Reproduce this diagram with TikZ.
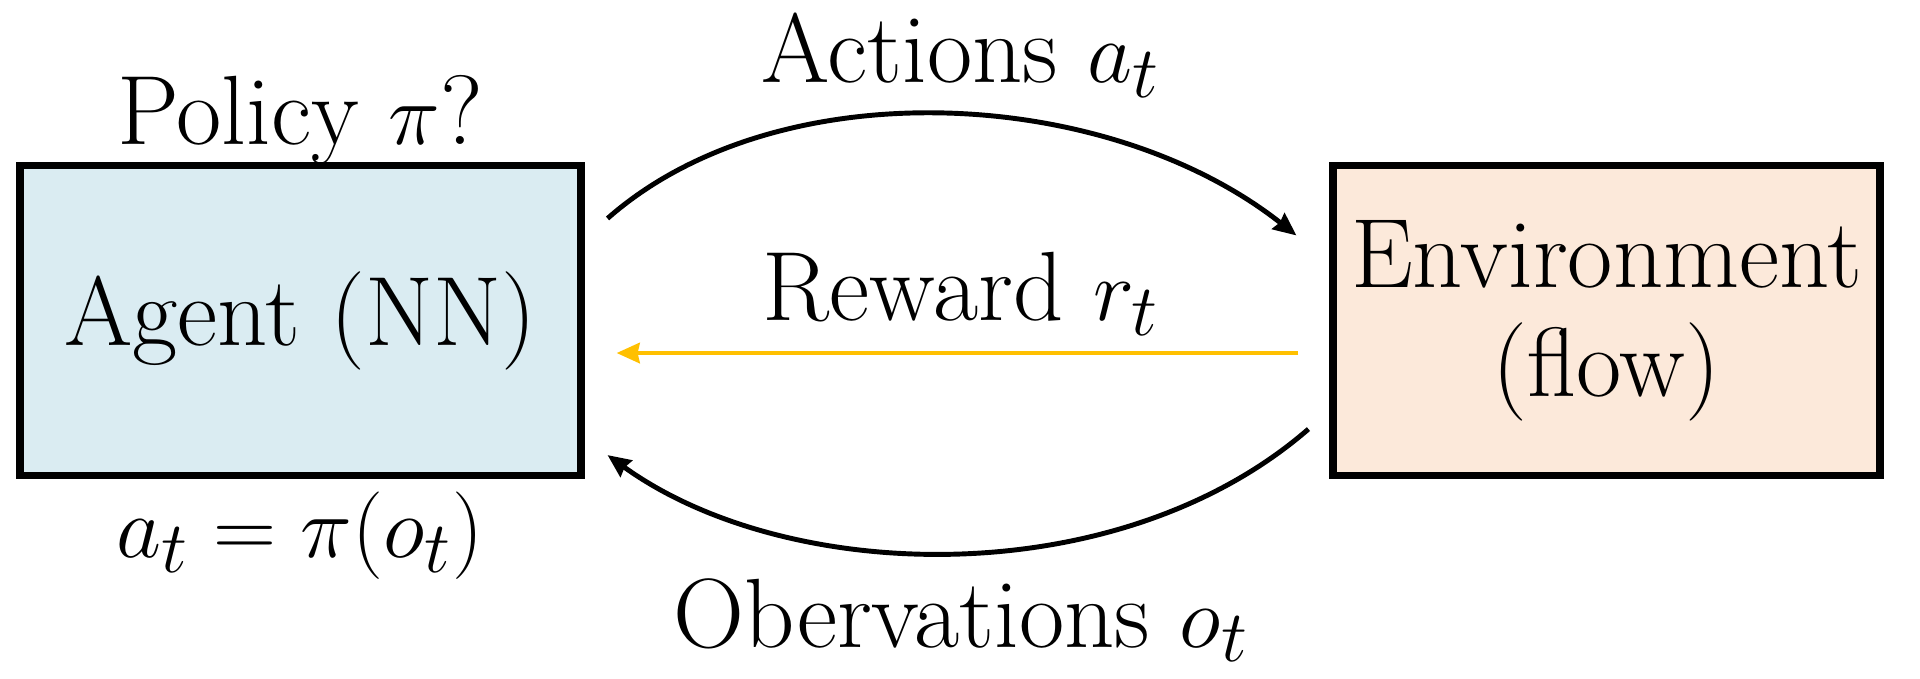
\documentclass[tikz,border=0pt]{standalone}
\usetikzlibrary{arrows.meta,calc}
\definecolor{agentfill}{HTML}{DAECF2}
\definecolor{envfill}{HTML}{FCE9DA}
\definecolor{rewardcol}{HTML}{FFC000}
\begin{document}
\begin{tikzpicture}[x=0.01cm,y=-0.01cm,
  boxstyle/.style={draw=black,line width=2.2pt,inner sep=0pt,align=center,
    font=\fontsize{28}{31}\selectfont},
  lbl/.style={font=\fontsize{28}{34}\selectfont,inner sep=0pt},
  conn/.style={line width=1.4pt,-{Stealth[length=0.23cm,width=0.2cm,inset=0.02cm]}}]
\useasboundingbox (0,0) rectangle (1920,678);
\node[boxstyle,fill=agentfill,minimum width=5.6cm,minimum height=3.1cm] (agent) at (300.5,320.5) {Agent (NN)};
\node[boxstyle,fill=envfill,minimum width=5.46cm,minimum height=3.1cm] (env) at (1606.5,320.5) {Environment\\(flow)};
\node[lbl] (policy) at (300,120) {Policy $\pi$?};
\node[lbl] (formula) at (300,536) {$a_t = \pi(o_t)$};
\node[lbl] (actions) at (961,55) {Actions $a_t$};
\node[lbl] (reward) at (961,294) {Reward $r_t$};
\node[lbl] (obs) at (961,620) {Obervations $o_t$};
\coordinate (aStart) at ([xshift=0.23cm,yshift=1.02cm]agent.east);
\coordinate (aEnd) at ([xshift=-0.33cm,yshift=0.85cm]env.west);
\draw[conn] (aStart) .. controls ($(aStart)+(170,-150)$) and ($(aEnd)+(-190,-150)$) .. (aEnd);
\coordinate (rStart) at ([xshift=-0.31cm,yshift=-0.325cm]env.west);
\coordinate (rEnd) at ([xshift=0.32cm,yshift=-0.325cm]agent.east);
\draw[conn,draw=rewardcol,-{Stealth[length=0.23cm,width=0.2cm,inset=0.02cm,fill=rewardcol]}] (rStart) -- (rEnd);
\coordinate (oStart) at ([xshift=-0.21cm,yshift=-1.085cm]env.west);
\coordinate (oEnd) at ([xshift=0.23cm,yshift=-1.345cm]agent.east);
\draw[conn] (oStart) .. controls ($(oStart)+(-190,165)$) and ($(oEnd)+(180,130)$) .. (oEnd);
\end{tikzpicture}
\end{document}
